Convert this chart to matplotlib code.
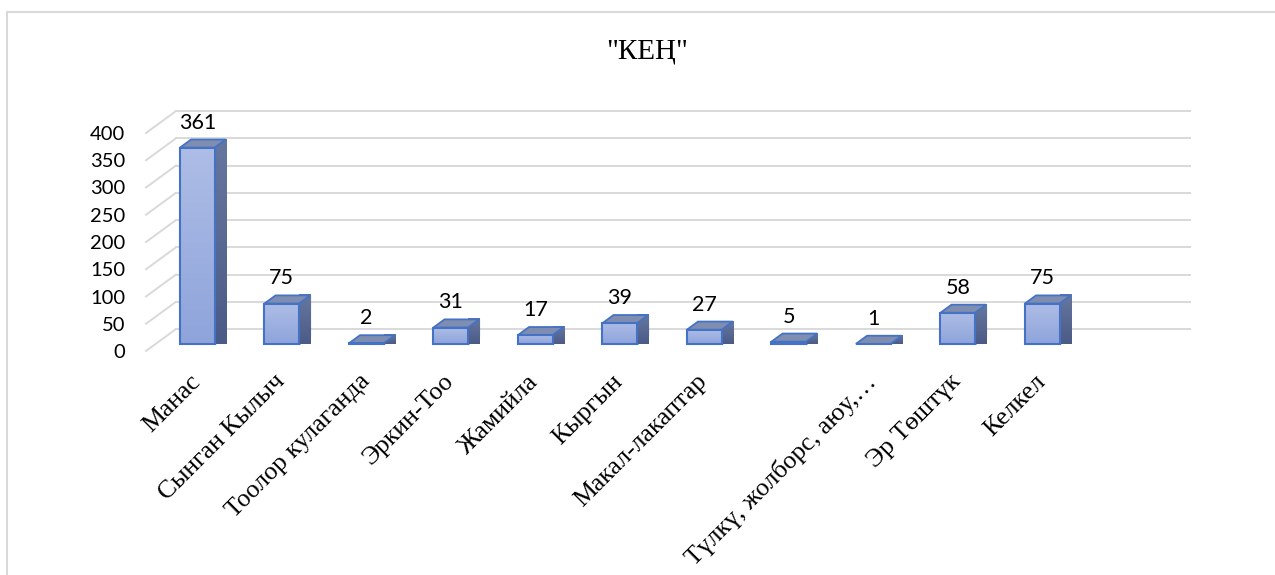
import matplotlib

matplotlib.use("Agg")
import matplotlib.pyplot as plt
import numpy as np
from matplotlib.colors import LinearSegmentedColormap
from matplotlib.patches import Polygon, Rectangle

# --- data ---
categories = [
    "Манас",
    "Сынган Кылыч",
    "Тоолор кулаганда",
    "Эркин-Тоо",
    "Жамийла",
    "Кыргын",
    "Макал-лакаптар",
    "",
    "Түлкү, жолборс, аюу,…",
    "Эр Төштүк",
    "Келкел",
]
values = [361, 75, 2, 31, 17, 39, 27, 5, 1, 58, 75]
y_ticks = [0, 50, 100, 150, 200, 250, 300, 350, 400]
title = '"КЕҢ"'
n_slots = 12  # Excel left one empty slot on the right

# --- pseudo 3D geometry (data units) ---
DX = 0.355  # depth of the floor along x (category units)
DY = 40.3  # depth of the floor along y (value units)
BAR_W = 0.41
D_FRONT = 0.30  # depth fraction of the bar front face
D_BAR = 0.37  # bar depth fraction

serif = ["Liberation Serif", "DejaVu Serif"]
sans = ["Lato", "DejaVu Sans"]

fig = plt.figure(figsize=(12.75, 5.75), dpi=100)
ax = fig.add_axes([146 / 1275, 224 / 575, 1014 / 1275, 218 / 575])
ax.set_xlim(-0.5, n_slots - 0.5)
ax.set_ylim(0, 400)

# outer chart frame
fig.patches.append(
    Rectangle(
        (7 / 1275, -0.1),
        1.2,
        1.1 - 12 / 575,
        transform=fig.transFigure,
        fill=False,
        edgecolor="#d9d9d9",
        linewidth=1.5,
    )
)

# floor diagonals + back wall gridlines
grid_c = "#d9d9d9"
for v in y_ticks:
    ax.plot([-0.5, -0.5 + DX], [v, v + DY], color=grid_c, lw=1.4, zorder=1, clip_on=False)
    ax.plot(
        [-0.5 + DX, n_slots - 0.5 + DX],
        [v + DY, v + DY],
        color=grid_c,
        lw=1.4,
        zorder=1,
        clip_on=False,
    )

front_cmap = LinearSegmentedColormap.from_list("front", ["#8ea4db", "#aebde6"])
side_cmap = LinearSegmentedColormap.from_list("side", ["#4b5b87", "#66779f"])
edge_c = "#4472c4"

grad = np.linspace(0, 1, 64).reshape(-1, 1)
ox = D_FRONT * DX
oy = D_FRONT * DY
ddx = D_BAR * DX
ddy = D_BAR * DY

for i, v in enumerate(values):
    x0 = i + ox - BAR_W / 2
    x1 = i + ox + BAR_W / 2
    b = oy
    t = oy + v

    # side face
    side = Polygon(
        [(x1, b), (x1, t), (x1 + ddx, t + ddy), (x1 + ddx, b + ddy)],
        closed=True,
        facecolor="#56668f",
        edgecolor=edge_c,
        lw=1.3,
        zorder=3,
        clip_on=False,
    )
    ax.add_patch(side)
    im = ax.imshow(
        grad,
        extent=[x1, x1 + ddx, b, t + ddy],
        origin="lower",
        aspect="auto",
        cmap=side_cmap,
        zorder=3,
        clip_on=False,
    )
    im.set_clip_path(side)

    # top face
    top = Polygon(
        [(x0, t), (x1, t), (x1 + ddx, t + ddy), (x0 + ddx, t + ddy)],
        closed=True,
        facecolor="#7f8db0",
        edgecolor=edge_c,
        lw=1.3,
        zorder=4,
        clip_on=False,
    )
    ax.add_patch(top)

    # front face with gradient
    front = Polygon(
        [(x0, b), (x1, b), (x1, t), (x0, t)],
        closed=True,
        facecolor="none",
        edgecolor=edge_c,
        lw=1.5,
        zorder=5,
        clip_on=False,
    )
    ax.add_patch(front)
    if v > 0:
        ax.imshow(
            grad,
            extent=[x0, x1, b, t],
            origin="lower",
            aspect="auto",
            cmap=front_cmap,
            zorder=4.5,
            clip_on=False,
        )

    ax.annotate(
        str(v),
        (i + ox, t + ddy),
        xytext=(0, 5),
        textcoords="offset points",
        ha="center",
        va="bottom",
        fontsize=15.5,
        family=sans,
        color="#000000",
        zorder=6,
        annotation_clip=False,
    )

    # category label, rotated 45 degrees, ending under the bar
    ax.annotate(
        categories[i],
        (i + ox, 0),
        xytext=(0, -19.5),
        textcoords="offset points",
        rotation=45,
        rotation_mode="anchor",
        ha="right",
        va="center",
        fontsize=18.5,
        family=serif,
        annotation_clip=False,
    )

ax.set_xlim(-0.5, n_slots - 0.5)
ax.set_ylim(0, 400)

ax.set_yticks(y_ticks)
ax.set_yticklabels([str(v) for v in y_ticks], family=sans, fontsize=14.5)
ax.tick_params(axis="y", length=0, pad=15)
ax.set_xticks([])

for s in ax.spines.values():
    s.set_visible(False)
ax.patch.set_visible(False)

fig.text(647 / 1275, 1 - 52 / 575, title, ha="center", va="center", family=serif, fontsize=21)

fig.savefig("out.png", dpi=100)
